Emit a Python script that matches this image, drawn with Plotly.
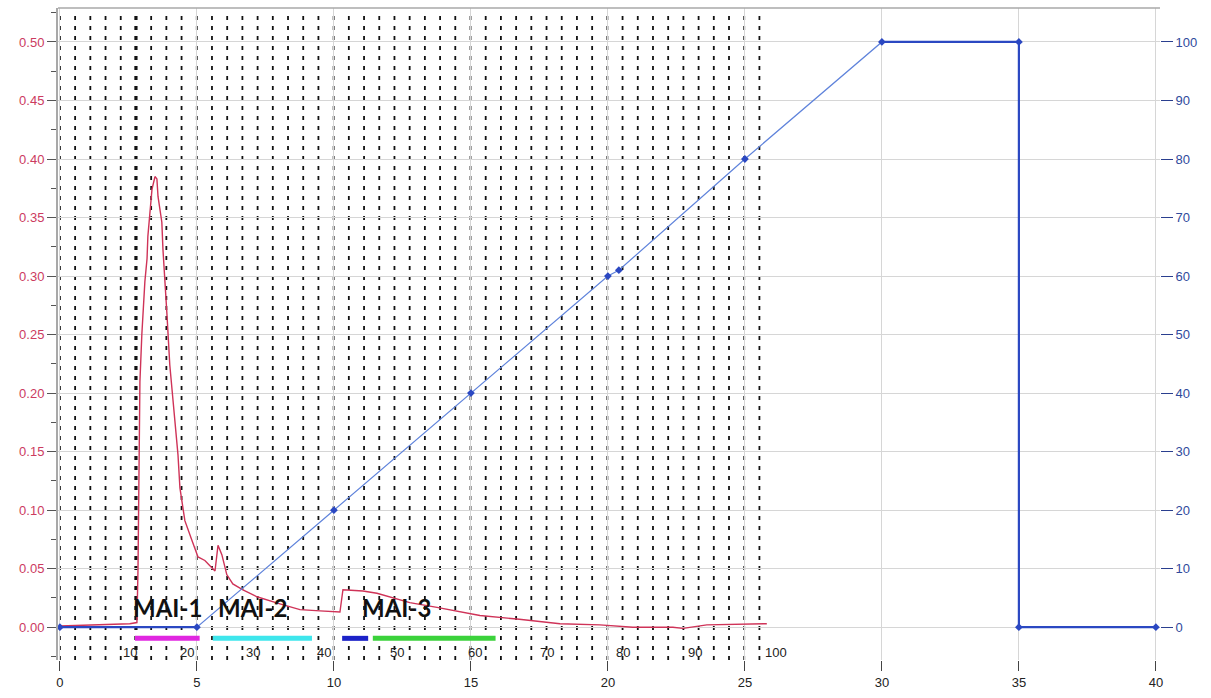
import plotly.graph_objects as go

# --- UV absorbance trace (left axis, AU) ---
uv_time = [0, 1.46, 2.55, 2.81, 2.85, 2.92, 2.99, 3.10, 3.18, 3.21, 3.36, 3.47, 3.54, 3.58,
           3.72, 3.76, 3.83, 3.91, 4.01, 4.09, 4.16, 4.31, 4.38, 4.56, 4.82, 5.04, 5.29,
           5.66, 5.77, 5.91, 6.09, 6.31, 6.68, 7.19, 8.03, 8.76, 9.49, 10.22, 10.33, 11.06,
           11.57, 12.04, 12.77, 13.76, 15.33, 16.68, 18.25, 19.71, 20.91, 22.37, 22.74,
           23.61, 25.80]
uv_abs = [0.001, 0.002, 0.003, 0.004, 0.05, 0.21, 0.25, 0.295, 0.315, 0.334, 0.374, 0.385,
          0.383, 0.368, 0.346, 0.323, 0.300, 0.266, 0.224, 0.204, 0.180, 0.147, 0.119,
          0.091, 0.074, 0.060, 0.057, 0.048, 0.070, 0.062, 0.045, 0.037, 0.032, 0.026,
          0.020, 0.015, 0.014, 0.013, 0.032, 0.031, 0.029, 0.026, 0.021, 0.017, 0.010,
          0.007, 0.003, 0.002, 0.000, 0.000, -0.001, 0.002, 0.003]

# --- gradient program (right axis, %B) ---
grad_time = [0, 5, 10, 15, 20, 20.4, 25, 30, 35, 35, 40]
grad_b = [0, 0, 20, 40, 60, 61, 80, 100, 100, 0, 0]

# --- fraction collector marks ---
frac_interval = 0.555
frac_count = 47
frac_highlight = 5
frac_label_time = [2.55, 4.62, 7.04, 9.64, 12.32, 15.15, 17.77, 20.55, 23.18, 26.13]
frac_label_text = ["10", "20", "30", "40", "50", "60", "70", "80", "90", "100"]

# --- pooled fractions ---
pool_names = ["MAI-1", "MAI-2", "MAI-3"]
pool_label_time = [3.94, 7.04, 12.3]
bar_start = [2.74, 5.58, 10.3, 11.42]
bar_end = [5.1, 9.2, 11.25, 15.9]
bar_colors = ["#e027e0", "#3ee6ec", "#1c22c8", "#3bd23b"]

fig = go.Figure()

# gradient line (thin), with thicker isocratic/step segments
fig.add_trace(go.Scatter(
    x=grad_time, y=grad_b, yaxis="y2", mode="lines+markers",
    line=dict(color="#5f83db", width=1.2),
    marker=dict(symbol="diamond", size=6, color="#2b48c2"),
    hoverinfo="skip", showlegend=False))
step_x = grad_time[0:2] + [None] + grad_time[7:]
step_y = grad_b[0:2] + [None] + grad_b[7:]
fig.add_trace(go.Scatter(
    x=step_x, y=step_y, yaxis="y2", mode="lines",
    line=dict(color="#2b48c2", width=2.2),
    hoverinfo="skip", showlegend=False))

# absorbance
fig.add_trace(go.Scatter(
    x=uv_time, y=uv_abs, mode="lines",
    line=dict(color="#cf3358", width=1.4),
    hoverinfo="skip", showlegend=False))

# pooled-fraction bars
for s, e, c in zip(bar_start, bar_end, bar_colors):
    fig.add_trace(go.Scatter(
        x=[s, e], y=[-0.0095, -0.0095], mode="lines",
        line=dict(color=c, width=5), hoverinfo="skip", showlegend=False))

shapes = []
for k in range(frac_count):
    xk = k * frac_interval
    shapes.append(dict(
        type="line", xref="x", yref="paper", x0=xk, x1=xk, y0=0, y1=0.99,
        line=dict(color="#111111", width=3.2 if k == frac_highlight else 1.8,
                  dash="4px,6px"),
        layer="between"))
# top frame line
shapes.append(dict(type="line", xref="paper", yref="paper", x0=0, x1=1, y0=1, y1=1,
                   line=dict(color="#a8a8a8", width=1.5)))

annotations = []
for t, txt in zip(frac_label_time, frac_label_text):
    annotations.append(dict(x=t, y=-0.0215, xref="x", yref="y", text=txt,
                            showarrow=False, font=dict(family="Liberation Sans", size=13,
                                                       color="#222222")))
for t, name in zip(pool_label_time, pool_names):
    annotations.append(dict(x=t, y=0.0165, xref="x", yref="y", text="<b>" + name + "</b>",
                            showarrow=False,
                            font=dict(family="Lato", size=24, color="#111111")))

fig.update_layout(
    width=1211, height=698,
    margin=dict(l=58, r=51, t=8, b=35),
    paper_bgcolor="white", plot_bgcolor="white",
    shapes=shapes, annotations=annotations,
    xaxis=dict(range=[-0.07, 40.15], tick0=0, dtick=5, showgrid=True,
               gridcolor="#d6d6d6", gridwidth=1, zeroline=False, showline=False,
               ticks="outside", ticklen=10, tickcolor="#444444",
               tickfont=dict(family="Liberation Sans", size=13, color="#222222")),
    yaxis=dict(range=[-0.028, 0.529], tick0=0, dtick=0.05, tickformat=".2f",
               showgrid=True, gridcolor="#d6d6d6", gridwidth=1, zeroline=False,
               showline=True, linecolor="#a8a8a8", linewidth=2,
               ticks="outside", ticklen=9, tickcolor="#555555",
               minor=dict(dtick=0.025, tick0=0, ticks="outside", ticklen=5,
                          tickcolor="#555555", showgrid=False),
               tickfont=dict(family="Liberation Sans", size=13, color="#cc3b5f")),
    yaxis2=dict(range=[-5.6, 105.8], tick0=0, dtick=10, overlaying="y", side="right",
                showgrid=False, zeroline=False, showline=False,
                ticks="outside", ticklen=12, tickcolor="#2a3f8f",
                tickfont=dict(family="Liberation Sans", size=13, color="#2f4a9c")),
)

fig.write_html("out.html")
